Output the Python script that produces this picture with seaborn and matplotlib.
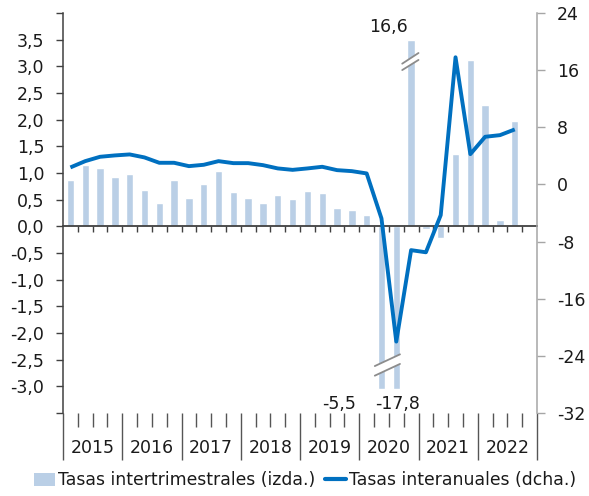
import numpy as np
import pandas as pd
import matplotlib
matplotlib.use("Agg")
import matplotlib.pyplot as plt
import seaborn as sns
from matplotlib.patches import Patch, Polygon
from matplotlib.lines import Line2D

# ---------------- data ----------------
years = ["2015", "2016", "2017", "2018", "2019", "2020", "2021", "2022"]
quarters_per_year = 4
qoq = [0.86, 1.15, 1.09, 0.92, 0.98, 0.68, 0.43, 0.86, 0.54, 0.80, 1.04, 0.64,
       0.54, 0.43, 0.58, 0.52, 0.66, 0.62, 0.35, 0.31, 0.22, -5.5, -17.8, 16.6,
       -0.05, -0.22, 1.35, 3.12, 2.27, 0.12, 1.97]
yoy = [2.38, 3.26, 3.87, 4.06, 4.2, 3.78, 3.03, 3.03, 2.56, 2.75, 3.26, 2.98,
       2.98, 2.7, 2.24, 2.04, 2.24, 2.47, 2.0, 1.86, 1.54, -4.76, -22.0, -9.2,
       -9.5, -4.3, 17.8, 4.24, 6.67, 6.9, 7.7]
left_ticks = [-3.5, -3.0, -2.5, -2.0, -1.5, -1.0, -0.5, 0.0, 0.5, 1.0, 1.5, 2.0, 2.5, 3.0, 3.5, 4.0]
right_ticks = [-32, -24, -16, -8, 0, 8, 16, 24]
label_bar = "Tasas intertrimestrales (izda.)"
label_line = "Tasas interanuales (dcha.)"
annot_values = {23: "16,6", 21: "-5,5", 22: "-17,8"}

# display clipping limits of the left axis (broken bars)
clip_lo, clip_hi = -3.05, 3.5

bar_color = "#BACFE6"
line_color = "#0070C0"
text_color = "#1a1a1a"

sns.set_style("white")
plt.rcParams["font.family"] = ["DejaVu Sans"]
plt.rcParams["text.color"] = text_color

n_slots = len(years) * quarters_per_year
slots = np.arange(len(qoq))
df_bar = pd.DataFrame({"slot": slots, "value": qoq,
                       "display": np.clip(qoq, clip_lo, clip_hi)})
df_line = pd.DataFrame({"slot": np.arange(len(yoy)), "value": yoy})

fig = plt.figure(figsize=(5.89, 4.96), dpi=100)
ax = fig.add_axes([63 / 589, 1 - 413 / 496, (537 - 63) / 589, 400 / 496])

sns.barplot(data=df_bar, x="slot", y="display", native_scale=True, color=bar_color,
            saturation=1, width=0.5, ax=ax, errorbar=None, zorder=2)

ax.set_xlim(-0.5, n_slots - 0.5)
ax.set_ylim(-3.5, 4.0)
ax.set_xlabel("")
ax.set_ylabel("")

# left axis
ax.set_yticks(left_ticks)
ax.set_yticklabels(["" if (v <= -3.5 or v >= 4.0) else f"{v:.1f}".replace(".", ",")
                    for v in left_ticks])
ax.tick_params(axis="y", direction="out", length=5, width=1, color="#404040",
               pad=8.5, labelsize=12.5, labelcolor=text_color, left=True)
for s in ["top", "right"]:
    ax.spines[s].set_visible(False)
ax.spines["left"].set_color("#404040")
ax.spines["left"].set_linewidth(1.1)

# zero line with quarter ticks
ax.spines["bottom"].set_position(("data", 0))
ax.spines["bottom"].set_color("#404040")
ax.spines["bottom"].set_linewidth(1.3)
ax.spines["bottom"].set_zorder(4)
ax.set_xticks(np.arange(0.5, n_slots - 0.5, 1.0))
ax.tick_params(axis="x", direction="out", length=4.5, width=1, color="#404040",
               labelbottom=False, bottom=True)

# bottom category axis: separators and quarter ticks
sec = ax.secondary_xaxis("bottom")
sec.spines["bottom"].set_visible(False)
year_bounds = np.arange(-0.5, n_slots, quarters_per_year)
q_bounds = [b for b in np.arange(0.5, n_slots - 0.5, 1.0) if (b + 0.5) % quarters_per_year != 0]
sec.set_xticks(year_bounds)
sec.set_xticks(q_bounds, minor=True)
sec.tick_params(axis="x", which="major", length=34, width=1, color="#555555",
                labelbottom=False)
sec.tick_params(axis="x", which="minor", length=10, width=1, color="#555555")

sec2 = ax.secondary_xaxis("bottom")
sec2.spines["bottom"].set_visible(False)
centers = np.arange(len(years)) * quarters_per_year + 1.5
sec2.set_xticks(centers)
sec2.set_xticklabels(years)
sec2.tick_params(axis="x", length=0, pad=19, labelsize=12.5, labelcolor=text_color)

# right axis with the line
ax2 = ax.twinx()
sns.lineplot(data=df_line, x="slot", y="value", ax=ax2, color=line_color,
             linewidth=2.8, solid_joinstyle="round", solid_capstyle="butt")
ax2.set_ylim(-32, 24)
ax2.set_yticks(right_ticks)
ax2.set_yticklabels([str(v) for v in right_ticks])
ax2.set_xlabel("")
ax2.set_ylabel("")
ax2.tick_params(axis="y", direction="out", length=5.8, width=1, color="#A6A6A6",
                pad=8.5, labelsize=12.5, labelcolor=text_color, right=True)
for s in ["top", "left", "bottom"]:
    ax2.spines[s].set_visible(False)
ax2.spines["right"].set_color("#A6A6A6")
ax2.spines["right"].set_linewidth(1.1)
ax2.set_xlim(-0.5, n_slots - 0.5)


# break marks
def break_mark(axis, x0, x1, y0u, y1u, y0l, y1l):
    poly = Polygon([[x0, y0u], [x1, y1u], [x1, y1l], [x0, y0l]], closed=True,
                   facecolor="white", edgecolor="none", zorder=5)
    axis.add_patch(poly)
    axis.plot([x0, x1], [y0u, y1u], color="#8c8c8c", lw=1.3, zorder=6)
    axis.plot([x0, x1], [y0l, y1l], color="#8c8c8c", lw=1.3, zorder=6)


break_mark(ax, 22.4, 23.5, 3.05, 3.25, 2.93, 3.12)
break_mark(ax, 20.55, 22.25, -2.62, -2.40, -2.80, -2.58)

# value annotations for broken bars
ax.text(22.75, 3.74, annot_values[23], ha="right", va="center", fontsize=12.5, zorder=7)
ax.text(19.25, -3.33, annot_values[21], ha="right", va="center", fontsize=12.5, zorder=7)
ax.text(22.1, -3.33, annot_values[22], ha="center", va="center", fontsize=12.5, zorder=7)

# legend
handles = [Patch(facecolor=bar_color, edgecolor="none"),
           Line2D([], [], color=line_color, lw=3)]
fig.legend(handles, [label_bar, label_line], loc="center", bbox_to_anchor=(0.518, 0.032),
           ncol=2, frameon=False, fontsize=12.4, handlelength=1.2, handleheight=0.8,
           handletextpad=0.15, columnspacing=0.6, borderaxespad=0, borderpad=0)

fig.savefig("out.png", dpi=100)
